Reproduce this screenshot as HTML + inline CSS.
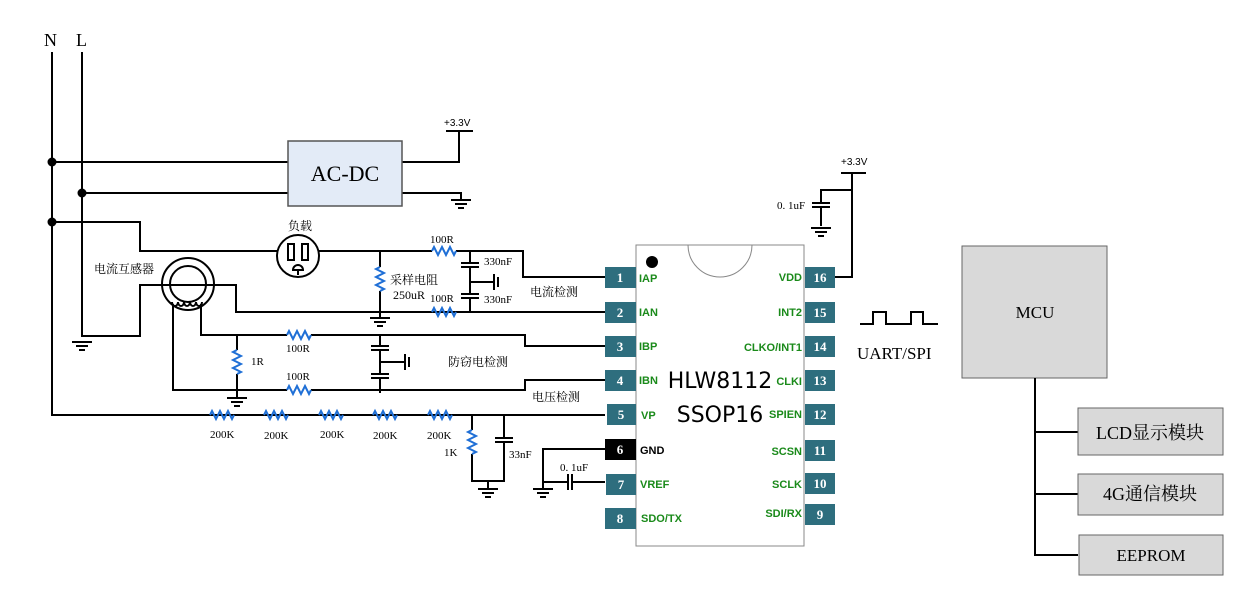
<!DOCTYPE html>
<html><head><meta charset="utf-8"><style>
body{margin:0;background:#fff;}
svg{display:block;}
.w{stroke:#000;stroke-width:2;fill:none;}
.r{stroke:#1f6fd6;stroke-width:2;fill:none;}
.t{font-family:"Liberation Serif","Noto Serif CJK SC",serif;font-size:11px;fill:#000;}
.pn{font-family:"Liberation Serif",serif;font-size:13px;font-weight:bold;fill:#fff;}
.pl{font-family:"Liberation Sans",sans-serif;font-size:11px;font-weight:bold;fill:#1a8a1a;}
</style></head><body>
<svg width="1245" height="601" viewBox="0 0 1245 601">
<defs>
<g id="gnd"><path class="w" d="M-10 0H10M-6 4H6M-3 8H3" stroke-width="1.6"/></g>
<g id="rh"><path class="r" d="M0 0L2-4 6 4 10-4 14 4 18-4 22 4 24 0"/></g>
<g id="rv"><path class="r" d="M0 0L-4 2 4 6-4 10 4 14-4 18 4 22 0 24"/></g>
</defs>
<!-- N L -->
<text x="44" y="46" class="t" style="font-size:18px">N</text>
<text x="76" y="46" class="t" style="font-size:18px">L</text>
<path class="w" d="M52 52V415H211M82 52V336H140V285H236V312H605"/>
<use href="#gnd" x="82" y="342"/>
<circle cx="52" cy="162" r="4.5"/><circle cx="82" cy="193" r="4.5"/><circle cx="52" cy="222" r="4.5"/>
<path class="w" d="M52 162H288M82 193H288M402 162H459V131M446 131H473M402 193H461V200"/>
<use href="#gnd" x="461" y="200"/>
<text x="444" y="126" style="font-family:'Liberation Sans',sans-serif;font-size:10px">+3.3V</text>
<rect x="288" y="141" width="114" height="65" fill="#e3ebf7" stroke="#555" stroke-width="1.5"/>
<text x="345" y="181" text-anchor="middle" class="t" style="font-size:22px">AC-DC</text>
<!-- load -->
<path class="w" d="M52 222H140V251H277M319 251H432M456 251H523V277H605"/>
<circle cx="298" cy="256" r="21" class="w"/>
<rect x="288" y="244" width="6" height="16" class="w" stroke-width="1.5"/>
<rect x="302" y="244" width="6" height="16" class="w" stroke-width="1.5"/>
<path class="w" stroke-width="1.5" d="M293 270a5 5 0 0 1 10 0ZM298 270V275"/>
<text x="288" y="230" class="t" style="font-size:12px">负载</text>
<use href="#rh" x="432" y="251"/>
<text x="430" y="243" class="t">100R</text>
<path class="w" d="M380 251V267M380 291V318"/>
<use href="#rv" x="380" y="267"/>
<use href="#gnd" x="380" y="318"/>
<text x="390" y="284" class="t" style="font-size:12px">采样电阻</text>
<text x="393" y="299" class="t" style="font-size:12px">250uR</text>
<!-- 330nF caps -->
<path class="w" d="M470 251V263M461 263H479M461 267H479M470 267V294M461 294H479M461 298H479M470 298V312M470 282H494M494 274V290M498 277V287"/>
<text x="484" y="265" class="t">330nF</text>
<text x="484" y="303" class="t">330nF</text>
<!-- IAN line -->
<path class="w" d="M236 312H432M456 312H605"/>
<use href="#rh" x="432" y="312"/>
<text x="430" y="302" class="t">100R</text>
<text x="530" y="296" class="t" style="font-size:12px">电流检测</text>
<!-- CT -->
<circle cx="188" cy="284" r="26" class="w"/>
<circle cx="188" cy="284" r="18" class="w"/>
<path class="w" stroke-width="1.5" d="M172 302a3 4 0 0 0 6 0a3 4 0 0 0 6 0a3 4 0 0 0 6 0a3 4 0 0 0 6 0a3 4 0 0 0 6 0"/>
<text x="94" y="273" class="t" style="font-size:12px">电流互感器</text>
<path class="w" d="M201 304V335H287M311 335H525V346H605M173 304V390H287M311 390H525V380H605M237 335V350M237 374V398"/>
<use href="#rh" x="287" y="335"/><use href="#rh" x="287" y="390"/>
<use href="#rv" x="237" y="350"/>
<use href="#gnd" x="237" y="398"/>
<text x="286" y="352" class="t">100R</text>
<text x="286" y="380" class="t">100R</text>
<text x="251" y="365" class="t">1R</text>
<path class="w" d="M380 335V346M371 346H389M371 350H389M380 350V374M371 374H389M371 378H389M380 378V393M380 362H405M405 354V370M409 357V367"/>
<text x="448" y="366" class="t" style="font-size:12px">防窃电检测</text>
<text x="532" y="401" class="t" style="font-size:12px">电压检测</text>
<!-- VP chain -->
<path class="w" d="M211 415H605"/>
<use href="#rh" x="210" y="415"/><use href="#rh" x="264" y="415"/><use href="#rh" x="319" y="415"/><use href="#rh" x="373" y="415"/><use href="#rh" x="428" y="415"/>
<g class="t"><text x="210" y="438">200K</text><text x="264" y="439">200K</text><text x="320" y="438">200K</text><text x="373" y="439">200K</text><text x="427" y="439">200K</text></g>
<rect x="209" y="411" width="2" height="0"/>
<path class="w" d="M472 415V430M472 454V481H504V443M504 415V438M495 438H513M495 442H513M488 481V489"/>
<use href="#rv" x="472" y="430"/>
<use href="#gnd" x="488" y="489"/>
<text x="444" y="456" class="t">1K</text>
<text x="509" y="458" class="t">33nF</text>
<path class="w" d="M605 449H543V489M543 482H568M572 482H605M568 474V490M572 474V490"/>
<use href="#gnd" x="543" y="489"/>
<text x="560" y="471" class="t">0. 1uF</text>
<!-- chip -->
<rect x="636" y="245" width="168" height="301" fill="#fff" stroke="#888" stroke-width="1"/>
<path d="M688 245a32 32 0 0 0 64 0" fill="none" stroke="#888" stroke-width="1"/>
<circle cx="652" cy="262" r="6"/>
<text x="720" y="388" text-anchor="middle" style="font-family:'DejaVu Sans',sans-serif;font-size:22px">HLW8112</text>
<text x="720" y="422" text-anchor="middle" style="font-family:'DejaVu Sans',sans-serif;font-size:22px">SSOP16</text>
<g>
<rect x="605" y="267" width="31" height="21" fill="#2e6e7e"/><text x="620" y="282" class="pn" text-anchor="middle">1</text>
<rect x="605" y="302" width="31" height="21" fill="#2e6e7e"/><text x="620" y="317" class="pn" text-anchor="middle">2</text>
<rect x="605" y="336" width="31" height="21" fill="#2e6e7e"/><text x="620" y="351" class="pn" text-anchor="middle">3</text>
<rect x="605" y="370" width="31" height="21" fill="#2e6e7e"/><text x="620" y="385" class="pn" text-anchor="middle">4</text>
<rect x="607" y="404" width="29" height="21" fill="#2e6e7e"/><text x="621" y="419" class="pn" text-anchor="middle">5</text>
<rect x="605" y="439" width="31" height="21" fill="#000"/><text x="620" y="454" class="pn" text-anchor="middle">6</text>
<rect x="606" y="474" width="30" height="21" fill="#2e6e7e"/><text x="621" y="489" class="pn" text-anchor="middle">7</text>
<rect x="605" y="508" width="31" height="21" fill="#2e6e7e"/><text x="620" y="523" class="pn" text-anchor="middle">8</text>
<rect x="805" y="267" width="30" height="21" fill="#2e6e7e"/><text x="820" y="282" class="pn" text-anchor="middle">16</text>
<rect x="805" y="302" width="30" height="21" fill="#2e6e7e"/><text x="820" y="317" class="pn" text-anchor="middle">15</text>
<rect x="805" y="336" width="30" height="21" fill="#2e6e7e"/><text x="820" y="351" class="pn" text-anchor="middle">14</text>
<rect x="805" y="370" width="30" height="21" fill="#2e6e7e"/><text x="820" y="385" class="pn" text-anchor="middle">13</text>
<rect x="805" y="404" width="30" height="21" fill="#2e6e7e"/><text x="820" y="419" class="pn" text-anchor="middle">12</text>
<rect x="805" y="440" width="30" height="21" fill="#2e6e7e"/><text x="820" y="455" class="pn" text-anchor="middle">11</text>
<rect x="805" y="473" width="30" height="21" fill="#2e6e7e"/><text x="820" y="488" class="pn" text-anchor="middle">10</text>
<rect x="805" y="504" width="30" height="21" fill="#2e6e7e"/><text x="820" y="519" class="pn" text-anchor="middle">9</text>
</g>
<g class="pl">
<text x="639" y="282">IAP</text><text x="639" y="316">IAN</text><text x="639" y="350">IBP</text><text x="639" y="384">IBN</text>
<text x="641" y="419">VP</text><text x="640" y="454" fill="#000">GND</text><text x="640" y="488">VREF</text><text x="641" y="522">SDO/TX</text>
<g text-anchor="end"><text x="802" y="281">VDD</text><text x="802" y="316">INT2</text><text x="802" y="351">CLKO/INT1</text><text x="802" y="385">CLKI</text>
<text x="802" y="418">SPIEN</text><text x="802" y="455">SCSN</text><text x="802" y="488">SCLK</text><text x="802" y="517">SDI/RX</text></g>
</g>
<!-- VDD -->
<path class="w" d="M835 277H852V173M841 173H866M852 190H821V203M812 203H830M812 207H830M821 207V226"/>
<use href="#gnd" x="821" y="228"/>
<text x="841" y="165" style="font-family:'Liberation Sans',sans-serif;font-size:10px">+3.3V</text>
<text x="777" y="209" class="t">0. 1uF</text>
<!-- UART -->
<path class="w" stroke-width="1.5" d="M860 324H873V312H886V324H911V312H923V324H938"/>
<text x="857" y="359" class="t" style="font-size:17px">UART/SPI</text>
<!-- MCU -->
<rect x="962" y="246" width="145" height="132" fill="#d9d9d9" stroke="#666" stroke-width="1"/>
<text x="1035" y="318" text-anchor="middle" class="t" style="font-size:17px">MCU</text>
<path class="w" d="M1035 378V555H1078M1035 432H1078M1035 494H1078"/>
<rect x="1078" y="408" width="145" height="47" fill="#d9d9d9" stroke="#666" stroke-width="1"/>
<rect x="1078" y="474" width="145" height="41" fill="#d9d9d9" stroke="#666" stroke-width="1"/>
<rect x="1079" y="535" width="144" height="40" fill="#d9d9d9" stroke="#666" stroke-width="1"/>
<text x="1150" y="439" text-anchor="middle" class="t" style="font-size:18px">LCD显示模块</text>
<text x="1150" y="500" text-anchor="middle" class="t" style="font-size:18px">4G通信模块</text>
<text x="1151" y="561" text-anchor="middle" class="t" style="font-size:17px">EEPROM</text>
</svg>
</body></html>
